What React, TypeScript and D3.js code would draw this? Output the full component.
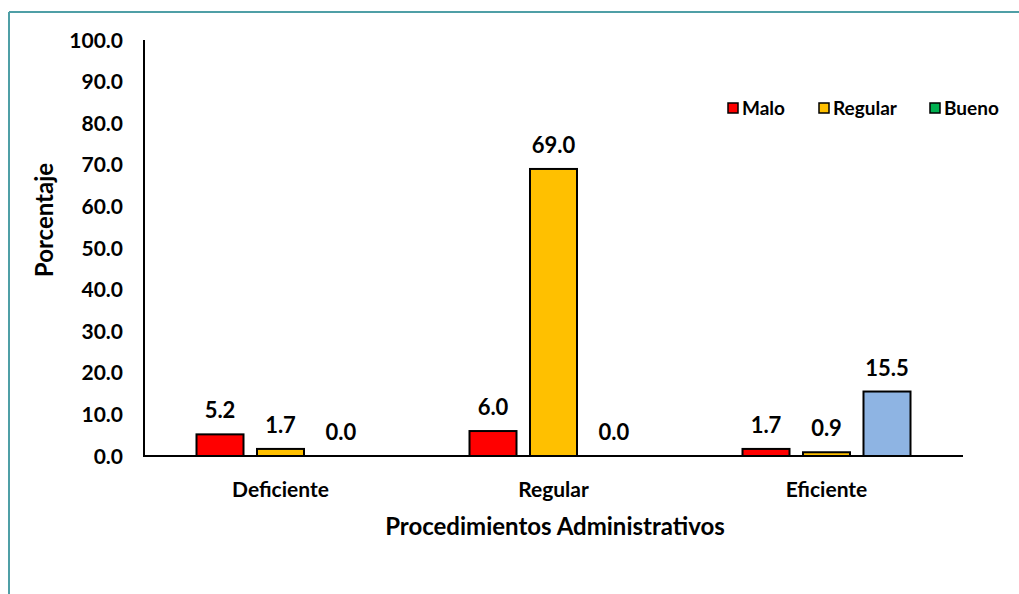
import React from "react";
import * as d3 from "d3";

const categories = ["Deficiente", "Regular", "Eficiente"];
const seriesNames = ["Malo", "Regular", "Bueno"];
const malo = [5.2, 6.0, 1.7];
const regular = [1.7, 69.0, 0.9];
const bueno = [0.0, 0.0, 15.5];
const yTicks = [0, 10, 20, 30, 40, 50, 60, 70, 80, 90, 100];
const barColors = ["#FF0000", "#FFC000", "#8EB4E3"];
const legendColors = ["#FF0000", "#FFC000", "#00B050"];

const W = 1019;
const H = 594;
const FONT = "Lato, 'Open Sans', sans-serif";

export default function App() {
  const series = [malo, regular, bueno];
  const left = 144;
  const right = 963;
  const top = 40;
  const bottom = 456;
  const x = d3.scaleBand<string>().domain(categories).range([left, right]).paddingInner(0).paddingOuter(0);
  const inner = d3.scaleBand<string>().domain(seriesNames).range([-84, 84]).paddingInner(0.223).paddingOuter(0);
  const y = d3.scaleLinear().domain([0, 100]).range([bottom, top]);

  return (
    <svg width={W} height={H} style={{ position: "absolute", left: 0, top: 0, background: "#fff" }} fontFamily={FONT}>
      <rect x={0} y={0} width={W} height={H} fill="#fff" />
      <line x1={9} y1={12} x2={W} y2={12} stroke="#4F9FA6" strokeWidth={2} />
      <line x1={9} y1={12} x2={9} y2={H} stroke="#4F9FA6" strokeWidth={2} />

      {yTicks.map((t) => (
        <text key={t} x={123} y={y(t)} dy="0.36em" textAnchor="end" fontSize={21} fontWeight="bold" fill="#000">
          {t.toFixed(1)}
        </text>
      ))}

      {categories.map((c, ci) => {
        const cx = (x(c) as number) + x.bandwidth() / 2;
        return (
          <g key={c}>
            {series.map((s, si) => {
              const v = s[ci];
              const bx = cx + (inner(seriesNames[si]) as number);
              const bw = inner.bandwidth();
              return (
                <g key={si}>
                  {v > 0 && (
                    <rect x={bx} y={y(v)} width={bw} height={bottom - y(v)} fill={barColors[si]} stroke="#000" strokeWidth={2} />
                  )}
                  <text x={bx + bw / 2} y={y(v) - 16} textAnchor="middle" fontSize={22} fontWeight="bold" fill="#000">
                    {v.toFixed(1)}
                  </text>
                </g>
              );
            })}
            <text x={cx} y={497} textAnchor="middle" fontSize={21} fontWeight="bold" fill="#000">
              {c}
            </text>
          </g>
        );
      })}

      <line x1={left} y1={top} x2={left} y2={bottom} stroke="#000" strokeWidth={2} />
      <line x1={left - 1} y1={bottom} x2={right} y2={bottom} stroke="#000" strokeWidth={2} />

      <text x={555} y={535} textAnchor="middle" fontSize={24} fontWeight="bold" fill="#000">
        Procedimientos Administrativos
      </text>
      <text transform={`translate(53, 220) rotate(-90)`} textAnchor="middle" fontSize={24} fontWeight="bold" fill="#000">
        Porcentaje
      </text>

      {seriesNames.map((n, i) => {
        const lx = [728, 819, 930][i];
        return (
          <g key={n}>
            <rect x={lx} y={103} width={10} height={10} fill={legendColors[i]} stroke="#000" strokeWidth={1.5} />
            <text x={lx + 14} y={108} dy="0.36em" fontSize={19} fontWeight="bold" fill="#000">
              {n}
            </text>
          </g>
        );
      })}
    </svg>
  );
}
